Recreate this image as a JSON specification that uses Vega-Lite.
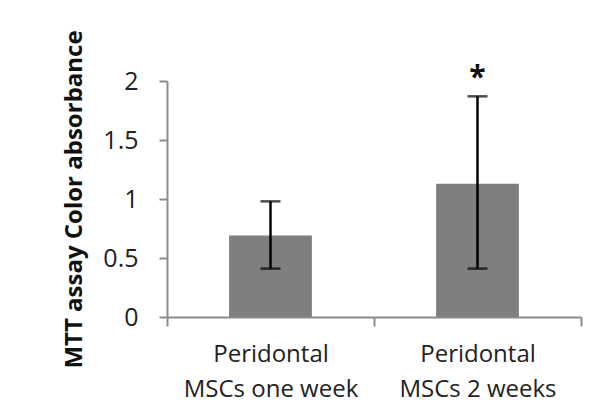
{
  "$schema": "https://vega.github.io/schema/vega-lite/v6.json",
  "autosize": {"type": "none"},
  "width": 414,
  "height": 236,
  "padding": {"left": 167, "top": 81, "right": 24, "bottom": 102},
  "background": "white",
  "config": {"view": {"stroke": null}, "font": "Open Sans"},
  "data": {
    "values": [
      {"group": "Peridontal|MSCs one week", "mean": 0.69, "lower": 0.41, "upper": 0.98, "star": ""},
      {"group": "Peridontal|MSCs 2 weeks", "mean": 1.13, "lower": 0.41, "upper": 1.87, "star": "*"}
    ]
  },
  "encoding": {
    "x": {
      "field": "group",
      "type": "nominal",
      "sort": null,
      "scale": {"paddingInner": 0, "paddingOuter": 0},
      "axis": {
        "title": null,
        "labelAngle": 0,
        "labelExpr": "split(datum.label, '|')",
        "labelFont": "Open Sans",
        "labelFontSize": 24,
        "labelColor": "#222",
        "labelLineHeight": 35,
        "labelPadding": 16,
        "labelLimit": 400,
        "labelOverlap": false,
        "tickBand": "extent",
        "tickSize": 9,
        "tickWidth": 2,
        "tickColor": "#8c8c8c",
        "domainColor": "#8c8c8c",
        "domainWidth": 2
      }
    }
  },
  "layer": [
    {
      "mark": {"type": "bar", "color": "#7f7f7f", "width": {"band": 0.4}},
      "encoding": {
        "y": {
          "field": "mean",
          "type": "quantitative",
          "scale": {"domain": [0, 2], "nice": false},
          "axis": {
            "title": "MTT assay Color absorbance",
            "titleFont": "Open Sans",
            "titleFontSize": 24,
            "titleFontWeight": "bold",
            "titleColor": "#111",
            "titlePadding": 16,
            "values": [0, 0.5, 1, 1.5, 2],
            "labelExpr": "format(datum.value, '~g')",
            "labelFont": "Open Sans",
            "labelFontSize": 25,
            "labelColor": "#222",
            "labelPadding": 21,
            "grid": false,
            "tickSize": 8,
            "tickWidth": 2,
            "tickColor": "#8c8c8c",
            "domainColor": "#8c8c8c",
            "domainWidth": 2
          }
        }
      }
    },
    {
      "mark": {"type": "rule", "color": "black", "strokeWidth": 2.5},
      "encoding": {
        "y": {"field": "lower", "type": "quantitative"},
        "y2": {"field": "upper"}
      }
    },
    {
      "mark": {"type": "tick", "color": "black", "size": 20, "thickness": 2.5},
      "encoding": {"y": {"field": "lower", "type": "quantitative"}}
    },
    {
      "mark": {"type": "tick", "color": "black", "size": 20, "thickness": 2.5},
      "encoding": {"y": {"field": "upper", "type": "quantitative"}}
    },
    {
      "mark": {"type": "text", "fontSize": 30, "fontWeight": "bold", "color": "#111", "baseline": "middle", "dy": -18},
      "encoding": {
        "y": {"field": "upper", "type": "quantitative"},
        "text": {"field": "star"}
      }
    }
  ]
}
